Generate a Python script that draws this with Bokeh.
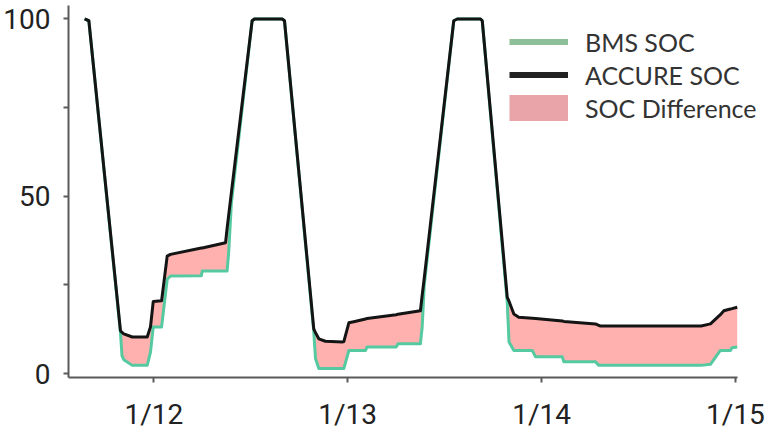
from bokeh.plotting import figure
from bokeh.models import ColumnDataSource, FixedTicker, Legend, LegendItem
from bokeh.embed import file_html
from bokeh.resources import INLINE

# time in fractional day of January
time_day = [11.643, 11.665, 11.828, 11.836, 11.845, 11.889, 11.966, 11.983, 11.997, 12.040,
            12.069, 12.086, 12.245, 12.250, 12.370, 12.378, 12.386, 12.400, 12.507, 12.519,
            12.662, 12.674, 12.825, 12.834, 12.851, 12.885, 12.972, 12.980, 13.006, 13.031,
            13.092, 13.100, 13.250, 13.259, 13.375, 13.384, 13.395, 13.547, 13.565, 13.685,
            13.694, 13.823, 13.832, 13.857, 13.882, 13.952, 13.969, 14.107, 14.115, 14.278,
            14.295, 14.304, 14.823, 14.871, 14.922, 14.940, 14.974, 14.982, 15.009]

accure_soc = [100, 99.5, 12.1, 11.6, 11.2, 10.3, 10.3, 13.2, 20.3, 20.5,
              33.1, 33.6, 35.4, 35.4, 36.9, 40.9, 44.6, 51, 99.5, 100,
              100, 99.5, 12.6, 11.5, 9.8, 9.1, 8.9, 9.0, 14.3, 14.6,
              15.4, 15.5, 16.6, 16.7, 17.7, 22, 27, 99.5, 100, 100,
              99.5, 21.5, 20.4, 16.8, 15.9, 15.6, 15.5, 14.8, 14.7, 14.0,
              13.6, 13.4, 13.4, 14.0, 16.6, 17.7, 18.2, 18.3, 18.7]

bms_soc = [100, 99.5, 11.5, 5.0, 3.9, 2.3, 2.3, 6.1, 13.1, 13.1,
           26.6, 27.5, 27.6, 28.9, 28.9, 28.9, 34, 48, 99.5, 100,
           100, 99.5, 11.8, 4.2, 1.4, 1.4, 1.4, 1.4, 6.5, 6.5,
           6.5, 7.5, 7.5, 8.4, 8.4, 13, 25, 99.5, 100, 100,
           99.5, 20, 8.9, 6.5, 6.5, 6.5, 4.7, 4.7, 3.3, 3.3,
           2.3, 2.3, 2.3, 2.6, 6.5, 6.5, 6.5, 7.3, 7.5]

x_tick_values = [12, 13, 14, 15]
x_tick_labels = ["1/12", "1/13", "1/14", "1/15"]
y_tick_values = [0, 25, 50, 75, 100]
y_tick_labels = ["0", "", "50", "", "100"]
legend_labels = ["BMS SOC", "ACCURE SOC", "SOC Difference"]

source = ColumnDataSource(data=dict(t=time_day, accure=accure_soc, bms=bms_soc))

p = figure(width=770, height=433, x_range=(11.56, 15.16), y_range=(-1.12, 103.8),
           output_backend="svg", toolbar_location=None,
           min_border_left=68, min_border_right=4, min_border_top=5, min_border_bottom=54)
p.outline_line_color = None
p.xgrid.visible = False
p.ygrid.visible = False
p.background_fill_color = "white"

p.varea(x="t", y1="bms", y2="accure", source=source, fill_color="#ffb1b0", fill_alpha=1.0)
p.line(x="t", y="bms", source=source, line_color="#55c9a0", line_width=3, line_join="round")
p.line(x="t", y="accure", source=source, line_color="#141414", line_width=3, line_join="round")

# legend swatches (renderers with a single empty point)
nan = float("nan")
sw_green = p.line(x=[nan], y=[nan], line_color="#8dbf98", line_width=6, line_cap="butt")
sw_black = p.line(x=[nan], y=[nan], line_color="#222222", line_width=6, line_cap="butt")
sw_pink = p.line(x=[nan], y=[nan], line_color="#e9a4a9", line_width=26, line_cap="butt")

legend = Legend(items=[LegendItem(label=legend_labels[0], renderers=[sw_green]),
                       LegendItem(label=legend_labels[1], renderers=[sw_black]),
                       LegendItem(label=legend_labels[2], renderers=[sw_pink])],
                location=(441, 253), glyph_width=59, glyph_height=33, label_height=33,
                spacing=0, padding=0, margin=0, label_standoff=17,
                border_line_alpha=0, background_fill_alpha=0,
                label_text_font="Lato", label_text_font_size="25px", label_text_color="#333333")
p.add_layout(legend)

for ax in (p.xaxis[0], p.yaxis[0]):
    ax.axis_line_color = "#5a5a5a"
    ax.axis_line_width = 2
    ax.major_tick_line_color = "#5a5a5a"
    ax.major_tick_line_width = 2
    ax.major_tick_in = 0
    ax.major_tick_out = 5
    ax.minor_tick_line_color = None
    ax.major_label_text_font = "Roboto"
    ax.major_label_text_font_size = "28px"
    ax.major_label_text_color = "#222222"

p.xaxis.bounds = (11.56, 15.01)
p.xaxis.ticker = FixedTicker(ticks=x_tick_values)
p.xaxis.major_label_overrides = dict(zip(x_tick_values, x_tick_labels))
p.xaxis.major_label_standoff = 15
p.yaxis.ticker = FixedTicker(ticks=y_tick_values)
p.yaxis.major_label_overrides = dict(zip(y_tick_values, y_tick_labels))
p.yaxis.major_label_standoff = 13

open("out.html", "w").write(file_html(p, INLINE))
